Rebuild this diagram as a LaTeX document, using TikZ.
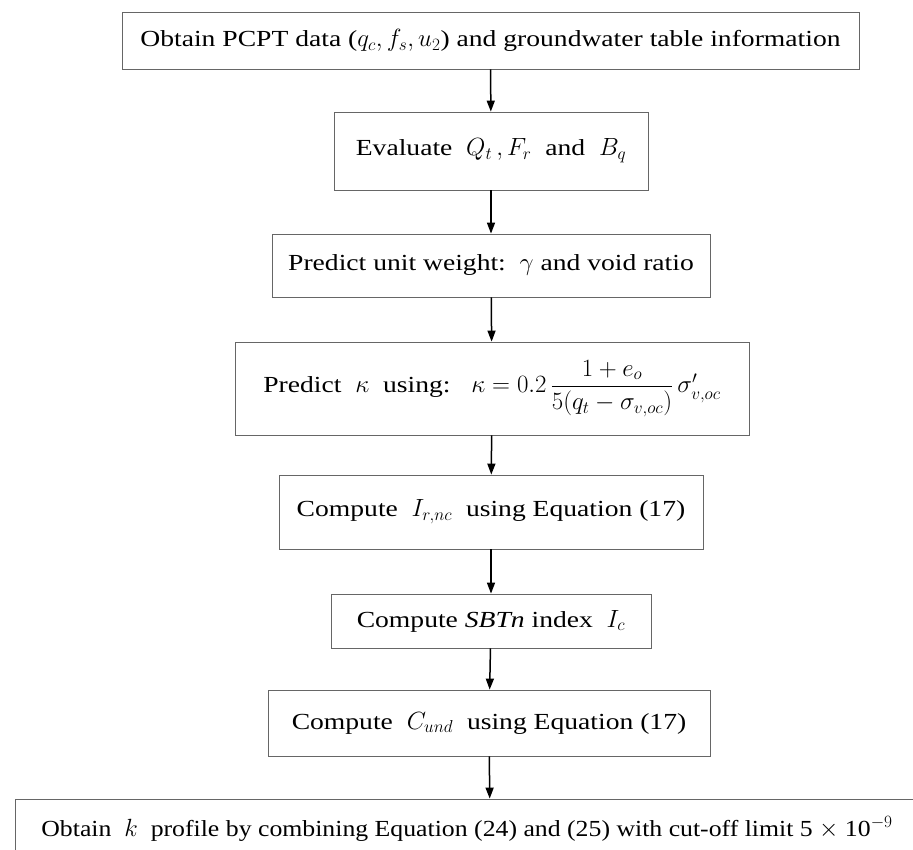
\documentclass[tikz,border=0pt]{standalone}
\usepackage{fontspec}
\setmainfont{Liberation Serif}[FakeStretch=1.2]
\newfontfamily\narrowserif{Liberation Serif}[FakeStretch=1.12]
\usepackage{amsmath}
\usetikzlibrary{arrows.meta}

\tikzset{
  stepbox/.style={draw=black!60, line width=0.8pt, fill=white, inner sep=0pt, align=center,
    font=\fontsize{23}{27}\selectfont},
  flow/.style={line width=1.5pt, -{Triangle[length=11pt, width=8pt]}}
}

\begin{document}
\begin{tikzpicture}[x=1pt,y=1pt]
	\useasboundingbox (0,0) rectangle (913,-850);
	\clip (0,0) rectangle (913,-850);
	\node [stepbox, minimum width=737, minimum height=57] (pcpt) at (490.5,-40.5)
		{Obtain PCPT data ($q_c, f_s, u_2$) and groundwater table information};
	\node [stepbox, minimum width=314, minimum height=78] (eval) at (491,-151)
		{\raisebox{-5pt}{Evaluate\ \ $Q_t\,, F_r$\ \ and\ \ $B_q$}};
	\node [stepbox, minimum width=438, minimum height=63] (gamma) at (491,-265.5)
		{Predict unit weight:\ \ $\gamma$ and void ratio};
	\node [stepbox, minimum width=514, minimum height=93] (kappa) at (492,-388.5)
		{Predict\ \ $\kappa$\ \ using:\ \ \ $\kappa = 0.2\,\dfrac{1+e_o}{5(q_t-\sigma_{v,oc})}\,\sigma'_{v,oc}$};
	\node [stepbox, minimum width=424, minimum height=74] (irr) at (491,-512)
		{\raisebox{-9pt}{Compute\ \ $I_{r,nc}$\ \ using Equation (17)}};
	\node [stepbox, minimum width=320, minimum height=54] (sbt) at (491,-621)
		{Compute \textit{SBTn} index\ \ $I_c$};
	\node [stepbox, minimum width=442, minimum height=66] (cund) at (489,-723)
		{Compute\ \ $C_{und}$\ \ using Equation (17)};
	\node [stepbox, minimum width=950, minimum height=60] (perm) at (490,-829)
		{\narrowserif Obtain\ \ $k$\ \ profile by combining Equation (24) and (25) with cut-off limit 5 $\times$ 10$^{-9}$\hspace*{46pt}};
	% arrows down the chart
	\draw [flow] (pcpt) -- (eval);
	\draw [flow] (eval) -- (gamma);
	\draw [flow] (gamma) -- (kappa);
	\draw [flow] (kappa) -- (irr);
	\draw [flow] (irr) -- (sbt);
	\draw [flow] (sbt) -- (cund);
	\draw [flow] (cund) -- (perm);
\end{tikzpicture}
\end{document}
